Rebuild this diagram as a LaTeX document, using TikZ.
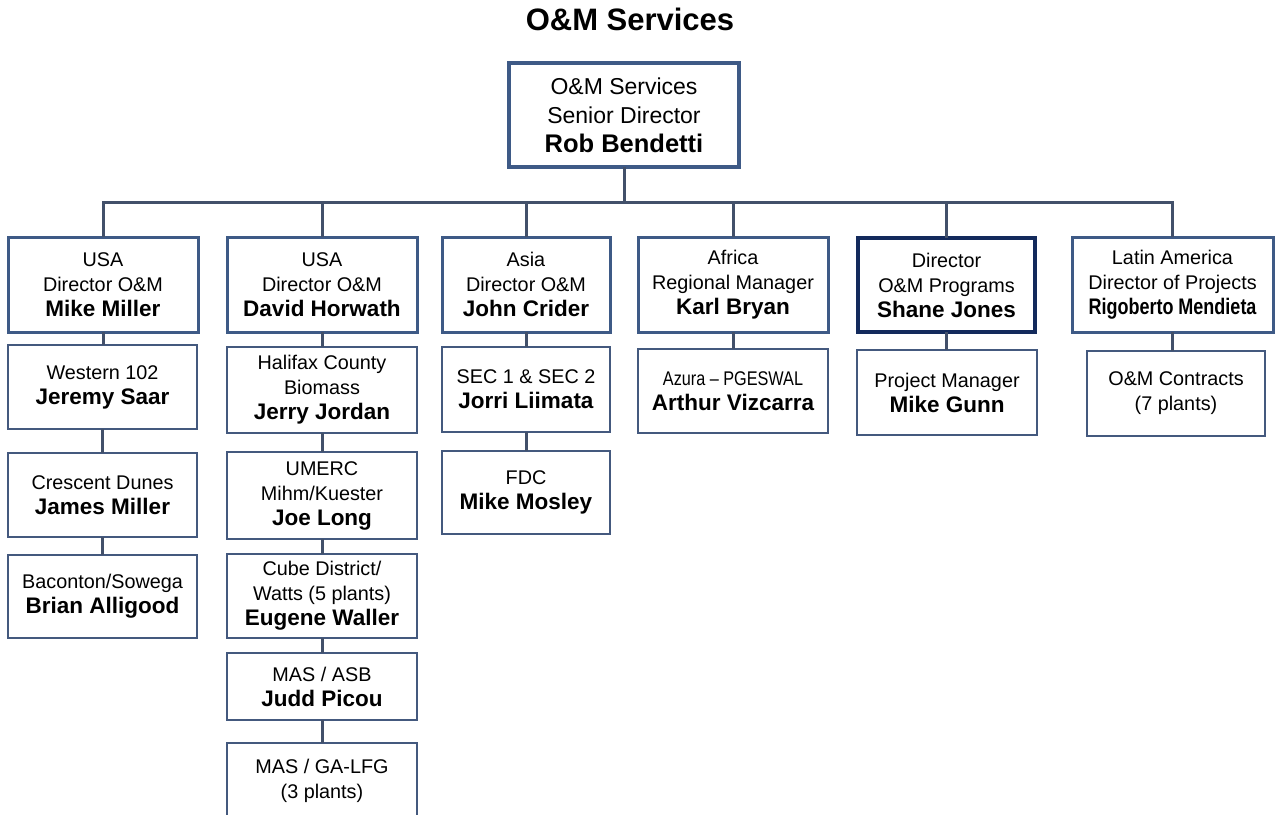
\documentclass[tikz,border=0pt]{standalone}
\usepackage{fontspec}
\setmainfont{Liberation Sans}
\definecolor{dirc}{HTML}{3E5A86}
\definecolor{shanec}{HTML}{132A5C}
\definecolor{subc}{HTML}{44597E}
\definecolor{linec}{HTML}{42506A}
\newcommand\regf{\fontsize{19.8}{25}\selectfont}
\newcommand\nm[1]{{\bfseries\fontsize{22.5}{25}\selectfont #1}}
\newcommand\bxn[7]{\node[#6, minimum width={#4-#2}, minimum height={#5-#3}] (#1) at ({(#2+#4)/2},{-(#3+#5)/2}) {#7};}
\begin{document}
\begin{tikzpicture}[x=1pt,y=1pt,
  basebox/.style={rectangle, inner sep=0pt, outer sep=0pt, align=center, font=\regf, fill=white},
  topbox/.style={basebox, draw=dirc, line width=3.2pt, font=\fontsize{23}{29}\selectfont},
  dirbox/.style={basebox, draw=dirc, line width=3pt},
  shanebox/.style={basebox, draw=shanec, line width=3.6pt},
  subbox/.style={basebox, draw=subc, line width=2pt},
  conn/.style={draw=linec, line width=3pt}]
\useasboundingbox (0,0) rectangle (1285,-814);
\fill[white] (0,0) rectangle (1285,-814);
\node[font=\bfseries\fontsize{31}{36}\selectfont] (title) at (630,-19) {O\&M Services};
% top
\bxn{top}{509}{63}{739}{167}{topbox}{O\&M Services\\Senior Director\\{\bfseries\fontsize{25.5}{29}\selectfont Rob Bendetti}}
% directors
\bxn{d1}{8}{237}{198}{332}{dirbox}{USA\\Director O\&M\\\nm{Mike Miller}}
\bxn{d2}{227}{237}{417}{332}{dirbox}{USA\\Director O\&M\\\nm{David Horwath}}
\bxn{d3}{442}{237}{610}{332}{dirbox}{Asia\\Director O\&M\\\nm{John Crider}}
\bxn{d4}{638}{237}{828}{332}{dirbox}{Africa\\Regional Manager\\\nm{Karl Bryan}}
\bxn{d5}{858}{238}{1035}{332}{shanebox}{Director\\O\&M Programs\\\nm{Shane Jones}}
\bxn{d6}{1072}{237}{1273}{332}{dirbox}{Latin America\\Director of Projects\\\nm{\scalebox{0.8}[1]{Rigoberto Mendieta}}}
% sub boxes
\bxn{s11}{8}{345}{197}{429}{subbox}{Western 102\\\nm{Jeremy Saar}}
\bxn{s12}{8}{453}{197}{537}{subbox}{Crescent Dunes\\\nm{James Miller}}
\bxn{s13}{8}{555}{197}{638}{subbox}{Baconton/Sowega\\\nm{Brian Alligood}}
\bxn{s21}{227}{347}{417}{433}{subbox}{Halifax County\\Biomass\\\nm{Jerry Jordan}}
\bxn{s22}{227}{452}{417}{539}{subbox}{UMERC\\Mihm/Kuester\\\nm{Joe Long}}
\bxn{s23}{227}{554}{417}{638}{subbox}{Cube District/\\Watts (5 plants)\\\nm{Eugene Waller}}
\bxn{s24}{227}{653}{417}{720}{subbox}{MAS / ASB\\\nm{Judd Picou}}
\bxn{s25}{227}{743}{417}{818}{subbox}{MAS / GA-LFG\\(3 plants)}
\bxn{s31}{442}{347}{610}{432}{subbox}{SEC 1 \& SEC 2\\\nm{Jorri Liimata}}
\bxn{s32}{442}{451}{610}{534}{subbox}{FDC\\\nm{Mike Mosley}}
\bxn{s41}{638}{349}{828}{433}{subbox}{\scalebox{0.82}[1]{Azura – PGESWAL}\\\nm{Arthur Vizcarra}}
\bxn{s51}{857}{350}{1037}{435}{subbox}{Project Manager\\\nm{Mike Gunn}}
\bxn{s61}{1087}{351}{1265}{436}{subbox}{O\&M Contracts\\(7 plants)}
% connectors
\coordinate (bus) at (623,-202);
\path[conn] (top.south) -- (top.south |- bus);
\path[conn] (d1.north) |- (top.south |- bus) -| (d6.north);
\foreach \d in {d2,d3,d4,d5} {\path[conn] (\d.north) -- (\d.north |- bus);}
\path[conn] (d1.south) -- (d1.south |- s11.north);
\path[conn] (s11.south) -- (s11.south |- s12.north);
\path[conn] (s12.south) -- (s12.south |- s13.north);
\path[conn] (d2.south) -- (d2.south |- s21.north);
\path[conn] (s21.south) -- (s21.south |- s22.north);
\path[conn] (s22.south) -- (s22.south |- s23.north);
\path[conn] (s23.south) -- (s23.south |- s24.north);
\path[conn] (s24.south) -- (s24.south |- s25.north);
\path[conn] (d3.south) -- (d3.south |- s31.north);
\path[conn] (s31.south) -- (s31.south |- s32.north);
\path[conn] (d4.south) -- (d4.south |- s41.north);
\path[conn] (d5.south) -- (d5.south |- s51.north);
\path[conn] (d6.south) -- (d6.south |- s61.north);
\end{tikzpicture}
\end{document}
